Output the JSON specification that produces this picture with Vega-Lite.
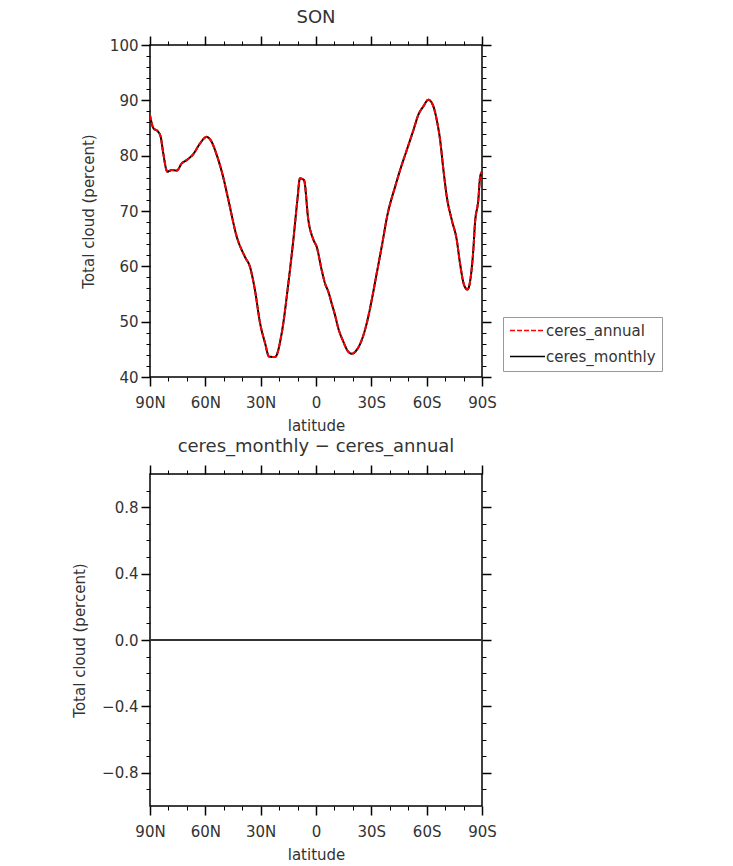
{
  "$schema": "https://vega.github.io/schema/vega-lite/v6.json",
  "autosize": {"type": "none"},
  "padding": {"left": 150, "top": 45, "right": 583, "bottom": 821},
  "background": "white",
  "config": {
    "font": "DejaVu Sans",
    "view": {"stroke": "black", "strokeWidth": 1.5},
    "axis": {"domain": false, "tickColor": "black", "labelColor": "#333", "titleColor": "#333", "labelFontSize": 15, "titleFontSize": 15, "titleFontWeight": "normal", "grid": false},
    "title": {"fontSize": 18, "fontWeight": "normal", "color": "#333", "frame": "group"}
  },
  "datasets": {
    "cloud": [
      {"lat": 90, "ceres_annual": 87.3, "ceres_monthly": 87.3},
      {"lat": 88.2, "ceres_annual": 85.0, "ceres_monthly": 85.0},
      {"lat": 85.5, "ceres_annual": 84.3, "ceres_monthly": 84.3},
      {"lat": 84.2, "ceres_annual": 83.4, "ceres_monthly": 83.4},
      {"lat": 82.8, "ceres_annual": 80.4, "ceres_monthly": 80.4},
      {"lat": 80.6, "ceres_annual": 77.1, "ceres_monthly": 77.1},
      {"lat": 78.2, "ceres_annual": 77.4, "ceres_monthly": 77.4},
      {"lat": 75.5, "ceres_annual": 77.3, "ceres_monthly": 77.3},
      {"lat": 72.8, "ceres_annual": 78.6, "ceres_monthly": 78.6},
      {"lat": 70.1, "ceres_annual": 79.2, "ceres_monthly": 79.2},
      {"lat": 66.5, "ceres_annual": 80.3, "ceres_monthly": 80.3},
      {"lat": 62.9, "ceres_annual": 82.2, "ceres_monthly": 82.2},
      {"lat": 59.3, "ceres_annual": 83.4, "ceres_monthly": 83.4},
      {"lat": 57.1, "ceres_annual": 82.8, "ceres_monthly": 82.8},
      {"lat": 53.8, "ceres_annual": 80.1, "ceres_monthly": 80.1},
      {"lat": 50.6, "ceres_annual": 76.5, "ceres_monthly": 76.5},
      {"lat": 47.5, "ceres_annual": 72.0, "ceres_monthly": 72.0},
      {"lat": 43.0, "ceres_annual": 65.4, "ceres_monthly": 65.4},
      {"lat": 38.5, "ceres_annual": 61.7, "ceres_monthly": 61.7},
      {"lat": 35.8, "ceres_annual": 59.9, "ceres_monthly": 59.9},
      {"lat": 33.1, "ceres_annual": 55.7, "ceres_monthly": 55.7},
      {"lat": 30.3, "ceres_annual": 49.7, "ceres_monthly": 49.7},
      {"lat": 27.6, "ceres_annual": 46.1, "ceres_monthly": 46.1},
      {"lat": 25.5, "ceres_annual": 43.7, "ceres_monthly": 43.7},
      {"lat": 22.2, "ceres_annual": 43.6, "ceres_monthly": 43.6},
      {"lat": 18.6, "ceres_annual": 47.9, "ceres_monthly": 47.9},
      {"lat": 15.0, "ceres_annual": 56.9, "ceres_monthly": 56.9},
      {"lat": 11.9, "ceres_annual": 66.0, "ceres_monthly": 66.0},
      {"lat": 10.1, "ceres_annual": 72.0, "ceres_monthly": 72.0},
      {"lat": 8.7, "ceres_annual": 75.9, "ceres_monthly": 75.9},
      {"lat": 6.5, "ceres_annual": 75.6, "ceres_monthly": 75.6},
      {"lat": 4.2, "ceres_annual": 68.5, "ceres_monthly": 68.5},
      {"lat": 1.4, "ceres_annual": 64.8, "ceres_monthly": 64.8},
      {"lat": -0.4, "ceres_annual": 63.5, "ceres_monthly": 63.5},
      {"lat": -3.1, "ceres_annual": 59.3, "ceres_monthly": 59.3},
      {"lat": -4.9, "ceres_annual": 56.9, "ceres_monthly": 56.9},
      {"lat": -6.7, "ceres_annual": 55.4, "ceres_monthly": 55.4},
      {"lat": -8.5, "ceres_annual": 53.3, "ceres_monthly": 53.3},
      {"lat": -10.3, "ceres_annual": 51.2, "ceres_monthly": 51.2},
      {"lat": -12.1, "ceres_annual": 48.8, "ceres_monthly": 48.8},
      {"lat": -14.8, "ceres_annual": 46.4, "ceres_monthly": 46.4},
      {"lat": -17.0, "ceres_annual": 44.8, "ceres_monthly": 44.8},
      {"lat": -19.4, "ceres_annual": 44.2, "ceres_monthly": 44.2},
      {"lat": -22.1, "ceres_annual": 44.9, "ceres_monthly": 44.9},
      {"lat": -24.8, "ceres_annual": 46.7, "ceres_monthly": 46.7},
      {"lat": -27.5, "ceres_annual": 49.7, "ceres_monthly": 49.7},
      {"lat": -30.2, "ceres_annual": 53.9, "ceres_monthly": 53.9},
      {"lat": -32.9, "ceres_annual": 58.7, "ceres_monthly": 58.7},
      {"lat": -35.6, "ceres_annual": 63.5, "ceres_monthly": 63.5},
      {"lat": -38.8, "ceres_annual": 69.4, "ceres_monthly": 69.4},
      {"lat": -42.9, "ceres_annual": 74.4, "ceres_monthly": 74.4},
      {"lat": -45.6, "ceres_annual": 77.4, "ceres_monthly": 77.4},
      {"lat": -49.2, "ceres_annual": 81.0, "ceres_monthly": 81.0},
      {"lat": -52.8, "ceres_annual": 84.6, "ceres_monthly": 84.6},
      {"lat": -55.5, "ceres_annual": 87.4, "ceres_monthly": 87.4},
      {"lat": -58.2, "ceres_annual": 88.9, "ceres_monthly": 88.9},
      {"lat": -60.9, "ceres_annual": 90.1, "ceres_monthly": 90.1},
      {"lat": -63.3, "ceres_annual": 89.2, "ceres_monthly": 89.2},
      {"lat": -65.5, "ceres_annual": 86.4, "ceres_monthly": 86.4},
      {"lat": -67.3, "ceres_annual": 82.8, "ceres_monthly": 82.8},
      {"lat": -69.1, "ceres_annual": 77.4, "ceres_monthly": 77.4},
      {"lat": -70.9, "ceres_annual": 72.6, "ceres_monthly": 72.6},
      {"lat": -73.6, "ceres_annual": 68.4, "ceres_monthly": 68.4},
      {"lat": -76.3, "ceres_annual": 64.8, "ceres_monthly": 64.8},
      {"lat": -78.1, "ceres_annual": 60.5, "ceres_monthly": 60.5},
      {"lat": -80.3, "ceres_annual": 56.6, "ceres_monthly": 56.6},
      {"lat": -82.1, "ceres_annual": 55.8, "ceres_monthly": 55.8},
      {"lat": -83.9, "ceres_annual": 58.1, "ceres_monthly": 58.1},
      {"lat": -85.3, "ceres_annual": 63.0, "ceres_monthly": 63.0},
      {"lat": -86.2, "ceres_annual": 67.8, "ceres_monthly": 67.8},
      {"lat": -88.0, "ceres_annual": 72.0, "ceres_monthly": 72.0},
      {"lat": -89.0, "ceres_annual": 76.2, "ceres_monthly": 76.2},
      {"lat": -90, "ceres_annual": 77.1, "ceres_monthly": 77.1}
    ],
    "diff": [
      {"lat": 90, "diff": 0},
      {"lat": 60, "diff": 0},
      {"lat": 30, "diff": 0},
      {"lat": 0, "diff": 0},
      {"lat": -30, "diff": 0},
      {"lat": -60, "diff": 0},
      {"lat": -90, "diff": 0}
    ]
  },
  "bounds": "flush",
  "spacing": 97,
  "vconcat": [
    {
      "width": 332,
      "height": 332,
      "title": {"text": "SON", "offset": 8},
      "data": {"name": "cloud"},
      "transform": [{"fold": ["ceres_monthly", "ceres_annual"], "as": ["series", "value"]}],
      "layer": [
        {
          "mark": {"type": "line", "strokeWidth": 2, "interpolate": "monotone"},
          "encoding": {
            "x": {"field": "lat", "type": "quantitative", "scale": {"domain": [90, -90], "nice": false, "zero": false},
              "axis": {"orient": "bottom", "values": [90, 60, 30, 0, -30, -60, -90], "labelExpr": "datum.value > 0 ? datum.value + 'N' : (datum.value < 0 ? (-datum.value) + 'S' : '0')", "tickSize": 9, "tickWidth": 1.5, "labelPadding": 9, "title": "latitude", "titlePadding": 8, "labelFlush": false, "labelOverlap": false}},
            "y": {"field": "value", "type": "quantitative", "scale": {"domain": [40, 100], "nice": false, "zero": false},
              "axis": {"orient": "left", "values": [40, 50, 60, 70, 80, 90, 100], "tickSize": 9, "tickWidth": 1.5, "labelPadding": 3, "title": "Total cloud (percent)", "titlePadding": 13, "labelFlush": false, "labelOverlap": false}},
            "color": {"field": "series", "type": "nominal", "scale": {"domain": ["ceres_annual", "ceres_monthly"], "range": ["#ff0000", "#000000"]},
              "legend": {"title": null, "orient": "none", "legendX": 353, "legendY": 272, "symbolType": "stroke", "symbolSize": 1225, "symbolStrokeWidth": 1.5, "clipHeight": 15, "labelFontSize": 15, "labelColor": "#333", "labelOffset": 0, "rowPadding": 10, "padding": 6, "strokeColor": "#999", "fillColor": "white"}},
            "strokeDash": {"field": "series", "type": "nominal", "scale": {"domain": ["ceres_annual", "ceres_monthly"], "range": [[5, 2], [1, 0]]}, "legend": null}
          }
        },
        {
          "mark": {"type": "line", "strokeOpacity": 0},
          "encoding": {
            "x": {"field": "lat", "type": "quantitative", "axis": {"orient": "bottom", "values": [80, 70, 50, 40, 20, 10, -10, -20, -40, -50, -70, -80], "labels": false, "tickSize": 4, "tickWidth": 1, "title": null}},
            "y": {"field": "value", "type": "quantitative", "axis": {"orient": "left", "values": [42, 44, 46, 48, 52, 54, 56, 58, 62, 64, 66, 68, 72, 74, 76, 78, 82, 84, 86, 88, 92, 94, 96, 98], "labels": false, "tickSize": 4, "tickWidth": 1, "title": null}}
          }
        },
        {
          "mark": {"type": "line", "strokeOpacity": 0},
          "encoding": {
            "x": {"field": "lat", "type": "quantitative", "axis": {"orient": "top", "values": [90, 60, 30, 0, -30, -60, -90], "labels": false, "tickSize": 9, "tickWidth": 1.5, "title": null}},
            "y": {"field": "value", "type": "quantitative", "axis": {"orient": "right", "values": [40, 50, 60, 70, 80, 90, 100], "labels": false, "tickSize": 9, "tickWidth": 1.5, "title": null}}
          }
        },
        {
          "mark": {"type": "line", "strokeOpacity": 0},
          "encoding": {
            "x": {"field": "lat", "type": "quantitative", "axis": {"orient": "top", "values": [80, 70, 50, 40, 20, 10, -10, -20, -40, -50, -70, -80], "labels": false, "tickSize": 4, "tickWidth": 1, "title": null}},
            "y": {"field": "value", "type": "quantitative", "axis": {"orient": "right", "values": [42, 44, 46, 48, 52, 54, 56, 58, 62, 64, 66, 68, 72, 74, 76, 78, 82, 84, 86, 88, 92, 94, 96, 98], "labels": false, "tickSize": 4, "tickWidth": 1, "title": null}}
          }
        }
      ],
      "resolve": {"axis": {"x": "independent", "y": "independent"}}
    },
    {
      "width": 332,
      "height": 332,
      "title": {"text": "ceres_monthly − ceres_annual", "offset": 8},
      "data": {"name": "diff"},
      "layer": [
        {
          "mark": {"type": "line", "strokeWidth": 2, "color": "#333"},
          "encoding": {
            "x": {"field": "lat", "type": "quantitative", "scale": {"domain": [90, -90], "nice": false, "zero": false},
              "axis": {"orient": "bottom", "values": [90, 60, 30, 0, -30, -60, -90], "labelExpr": "datum.value > 0 ? datum.value + 'N' : (datum.value < 0 ? (-datum.value) + 'S' : '0')", "tickSize": 9, "tickWidth": 1.5, "labelPadding": 9, "title": "latitude", "titlePadding": 8, "labelFlush": false, "labelOverlap": false}},
            "y": {"field": "diff", "type": "quantitative", "scale": {"domain": [-1, 1], "nice": false, "zero": false},
              "axis": {"orient": "left", "values": [-0.8, -0.4, 0, 0.4, 0.8], "format": ".1f", "labelExpr": "replace(datum.label, '-', '−')", "tickSize": 9, "tickWidth": 1.5, "labelPadding": 3, "title": "Total cloud (percent)", "titlePadding": 14, "labelFlush": false, "labelOverlap": false}}
          }
        },
        {
          "mark": {"type": "line", "strokeOpacity": 0},
          "encoding": {
            "x": {"field": "lat", "type": "quantitative", "axis": {"orient": "bottom", "values": [80, 70, 50, 40, 20, 10, -10, -20, -40, -50, -70, -80], "labels": false, "tickSize": 4, "tickWidth": 1, "title": null}},
            "y": {"field": "diff", "type": "quantitative", "axis": {"orient": "left", "values": [-0.9, -0.7, -0.6, -0.5, -0.3, -0.2, -0.1, 0.1, 0.2, 0.3, 0.5, 0.6, 0.7, 0.9], "labels": false, "tickSize": 4, "tickWidth": 1, "title": null}}
          }
        },
        {
          "mark": {"type": "line", "strokeOpacity": 0},
          "encoding": {
            "x": {"field": "lat", "type": "quantitative", "axis": {"orient": "top", "values": [90, 60, 30, 0, -30, -60, -90], "labels": false, "tickSize": 9, "tickWidth": 1.5, "title": null}},
            "y": {"field": "diff", "type": "quantitative", "axis": {"orient": "right", "values": [-0.8, -0.4, 0, 0.4, 0.8], "labels": false, "tickSize": 9, "tickWidth": 1.5, "title": null}}
          }
        },
        {
          "mark": {"type": "line", "strokeOpacity": 0},
          "encoding": {
            "x": {"field": "lat", "type": "quantitative", "axis": {"orient": "top", "values": [80, 70, 50, 40, 20, 10, -10, -20, -40, -50, -70, -80], "labels": false, "tickSize": 4, "tickWidth": 1, "title": null}},
            "y": {"field": "diff", "type": "quantitative", "axis": {"orient": "right", "values": [-0.9, -0.7, -0.6, -0.5, -0.3, -0.2, -0.1, 0.1, 0.2, 0.3, 0.5, 0.6, 0.7, 0.9], "labels": false, "tickSize": 4, "tickWidth": 1, "title": null}}
          }
        }
      ],
      "resolve": {"axis": {"x": "independent", "y": "independent"}}
    }
  ]
}
